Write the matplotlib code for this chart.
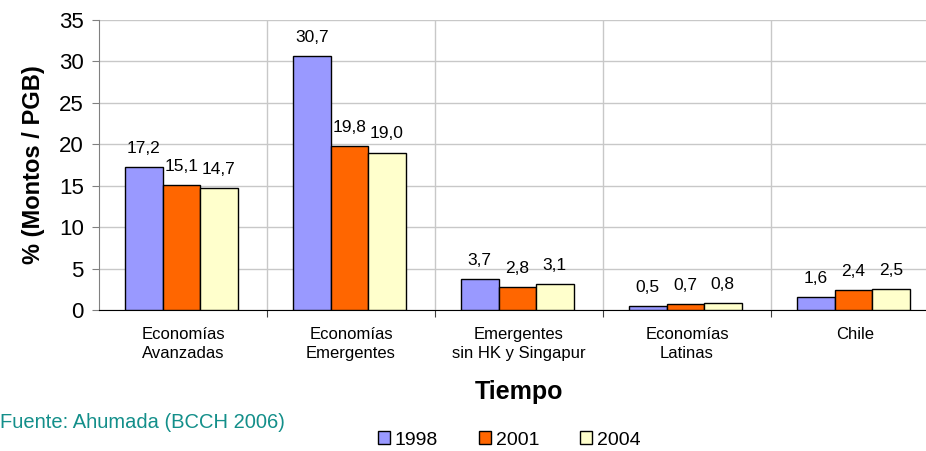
import numpy as np
from matplotlib import pyplot as plt

categories = ["Economías\nAvanzadas", "Economías\nEmergentes", "Emergentes\nsin HK y Singapur",
              "Economías\nLatinas", "Chile"]
years = ["1998", "2001", "2004"]
v1998 = [17.2, 30.7, 3.7, 0.5, 1.6]
v2001 = [15.1, 19.8, 2.8, 0.7, 2.4]
v2004 = [14.7, 19.0, 3.1, 0.8, 2.5]
colors = ["#9999FF", "#FF6600", "#FFFFCC"]

plt.rcParams["font.family"] = ["Liberation Sans", "DejaVu Sans"]

fig = plt.figure(figsize=(9.26, 4.51), dpi=100)
ax = fig.add_axes([99 / 926, 1 - 310 / 451, 840 / 926, 290 / 451])

x = np.arange(len(categories))
w = 0.223
for i, (vals, lab) in enumerate(zip([v1998, v2001, v2004], years)):
    pos = x + (i - 1) * w - 0.01
    ax.bar(pos, vals, width=w, color=colors[i], edgecolor="black", linewidth=1, label=lab, zorder=3)
    for px, v in zip(pos, vals):
        ax.annotate(f"{v:.1f}".replace(".", ","), (px, v), xytext=(0, 8), textcoords="offset points",
                    ha="center", va="bottom", fontsize=12.5)

ax.set_xlim(-0.5, len(categories) - 0.5)
ax.set_ylim(0, 35)
ax.set_yticks(range(0, 36, 5))
ax.tick_params(axis="y", labelsize=16, length=5, pad=6, color="#808080")
ax.set_xticks(x + 0.5, minor=False)
ax.set_xticklabels([])
ax.set_xticks(x, minor=True)
ax.set_xticklabels(categories, minor=True, fontsize=12, linespacing=1.35)
ax.tick_params(axis="x", which="minor", length=0, pad=12)
ax.tick_params(axis="x", which="major", length=5, color="#404040")
ax.grid(True, axis="y", color="#c8c8c8", linewidth=1, zorder=0)
for b in x[:-1] + 0.5:
    ax.axvline(b, color="#c8c8c8", linewidth=1, zorder=0)

for s in ["top", "right"]:
    ax.spines[s].set_visible(False)
ax.spines["left"].set_color("#808080")
ax.spines["bottom"].set_color("black")

ax.set_ylabel("% (Montos / PGB)", fontsize=17, fontweight="bold", labelpad=10)
fig.text(519 / 926, 1 - 392 / 451, "Tiempo", fontsize=18, fontweight="bold", ha="center", va="center")
fig.text(0, 1 - 423 / 451, "Fuente: Ahumada (BCCH 2006)", fontsize=14.5, color="#138f8a", ha="left", va="center")

ax.legend(loc="center", bbox_to_anchor=(509 / 926, 1 - 440 / 451), bbox_transform=fig.transFigure,
          ncol=3, frameon=False, fontsize=14, handlelength=0.62, handleheight=0.62, columnspacing=2.1,
          handletextpad=0.25)

fig.savefig("out.png", dpi=100)
